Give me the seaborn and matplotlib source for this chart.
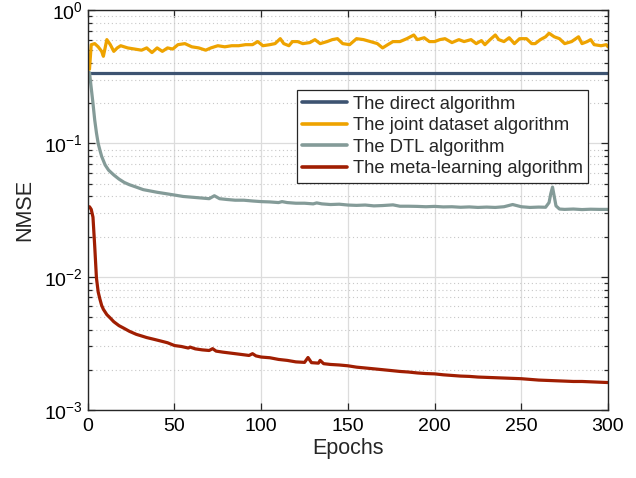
import numpy as np
import pandas as pd
import matplotlib
matplotlib.use('Agg')
import matplotlib.pyplot as plt
import matplotlib.ticker as mticker
import seaborn as sns

# %% data
direct_epochs = [1, 300]
direct_nmse = [0.34, 0.34]

joint_epochs = [1, 2, 4, 6, 8, 9, 11, 13, 15, 17, 19, 23, 27, 31, 34, 37, 40, 43, 46, 49,
                52, 56, 60, 64, 68, 71, 75, 79, 83, 87, 91, 95, 98, 101, 105, 108, 111, 113, 116, 118,
                121, 124, 128, 131, 134, 138, 141, 144, 147, 151, 155, 159, 163, 167, 170, 173, 176, 180, 184, 188,
                190, 194, 197, 200, 203, 206, 210, 214, 217, 221, 224, 227, 229, 232, 235, 237, 240, 243, 246, 249,
                253, 256, 258, 261, 264, 266, 269, 272, 275, 279, 283, 285, 288, 290, 292, 296, 299, 300]
joint_nmse = [0.36, 0.55, 0.56, 0.53, 0.49, 0.45, 0.60, 0.55, 0.49, 0.52, 0.54, 0.52, 0.51, 0.50, 0.52, 0.48, 0.52, 0.49, 0.52, 0.51,
              0.55, 0.56, 0.53, 0.52, 0.50, 0.52, 0.54, 0.53, 0.54, 0.54, 0.55, 0.55, 0.58, 0.54, 0.55, 0.56, 0.61, 0.56, 0.54, 0.58,
              0.58, 0.56, 0.57, 0.60, 0.56, 0.58, 0.60, 0.61, 0.56, 0.55, 0.61, 0.60, 0.58, 0.56, 0.52, 0.55, 0.58, 0.58, 0.61, 0.65,
              0.60, 0.62, 0.58, 0.58, 0.60, 0.61, 0.57, 0.60, 0.58, 0.60, 0.56, 0.59, 0.55, 0.60, 0.65, 0.60, 0.58, 0.62, 0.56, 0.61,
              0.61, 0.56, 0.56, 0.60, 0.63, 0.67, 0.63, 0.61, 0.56, 0.58, 0.63, 0.56, 0.58, 0.60, 0.55, 0.54, 0.55, 0.53]

dtl_epochs = [1, 2, 3, 4, 5, 6, 7, 8, 10, 12, 15, 18, 21, 24, 28, 32, 36, 40, 45, 50,
              55, 60, 65, 70, 73, 76, 80, 85, 90, 95, 100, 105, 110, 112, 115, 120, 125, 130, 132, 135,
              140, 145, 150, 155, 160, 165, 170, 176, 180, 185, 190, 195, 200, 205, 210, 215, 220, 225, 230, 235,
              240, 245, 250, 255, 260, 264, 266, 267, 268, 269, 270, 272, 275, 280, 285, 290, 295, 300]
dtl_nmse = [0.34, 0.26, 0.20, 0.15, 0.12, 0.10, 0.089, 0.080, 0.069, 0.063, 0.058, 0.054, 0.051, 0.049, 0.047, 0.045, 0.044, 0.043, 0.042, 0.041,
            0.040, 0.0395, 0.039, 0.0385, 0.0405, 0.0385, 0.038, 0.0375, 0.0375, 0.037, 0.0366, 0.0364, 0.036, 0.0366, 0.036, 0.0356, 0.0356, 0.0352, 0.0358, 0.0352,
            0.0348, 0.035, 0.0345, 0.0343, 0.0345, 0.034, 0.0342, 0.0346, 0.0338, 0.0338, 0.0337, 0.0335, 0.0337, 0.0334, 0.0335, 0.0332, 0.0334, 0.0331, 0.0333, 0.0331,
            0.0335, 0.0348, 0.0335, 0.0331, 0.0333, 0.0332, 0.036, 0.042, 0.047, 0.040, 0.034, 0.0322, 0.032, 0.0322, 0.0319, 0.0321, 0.032, 0.032]

meta_epochs = [1, 2, 3, 4, 5, 6, 7, 8, 9, 11, 13, 15, 18, 21, 24, 28, 31, 34, 38, 42,
               46, 50, 54, 58, 59, 62, 66, 70, 72, 74, 78, 82, 86, 90, 93, 95, 97, 100, 105, 110,
               115, 120, 125, 127, 129, 133, 134, 136, 140, 145, 150, 155, 160, 165, 170, 175, 180, 185, 190, 195,
               200, 205, 210, 215, 220, 225, 230, 235, 240, 245, 250, 255, 260, 265, 270, 275, 280, 285, 290, 295, 300]
meta_nmse = [0.0335, 0.032, 0.028, 0.017, 0.0098, 0.0077, 0.0068, 0.0061, 0.0057, 0.0052, 0.0049, 0.0046, 0.0043, 0.0041, 0.0039, 0.0037, 0.0036, 0.0035, 0.0034, 0.0033,
             0.0032, 0.00305, 0.0030, 0.00292, 0.00297, 0.00288, 0.00283, 0.0028, 0.00289, 0.00277, 0.00272, 0.00268, 0.00264, 0.0026, 0.00257, 0.00265, 0.00255, 0.0025, 0.00247, 0.0024,
             0.00236, 0.0023, 0.00228, 0.00248, 0.00227, 0.00225, 0.00236, 0.00223, 0.0022, 0.00218, 0.00215, 0.0021, 0.00207, 0.00204, 0.00201, 0.00198, 0.00195, 0.00193, 0.0019, 0.00188,
             0.00187, 0.00184, 0.00182, 0.0018, 0.00179, 0.00177, 0.00176, 0.00175, 0.00174, 0.00173, 0.00172, 0.0017, 0.00168, 0.00167, 0.00166, 0.00165, 0.00164, 0.00164, 0.00163, 0.00162, 0.00161]

labels = ['The direct algorithm', 'The joint dataset algorithm',
          'The DTL algorithm', 'The meta-learning algorithm']
colors = ['#3d5371', '#eea300', '#849b98', '#a01e02']

#%%
sns.set_theme(style='white')
plt.rcParams['font.family'] = ['Liberation Sans', 'DejaVu Sans']
plt.rcParams['mathtext.fontset'] = 'custom'
plt.rcParams['mathtext.rm'] = 'Liberation Sans'
plt.rcParams['mathtext.it'] = 'Liberation Sans:italic'

fig = plt.figure(figsize=(6.36, 4.78), dpi=100)
ax = fig.add_axes([0.138, 0.142, 0.818, 0.837])

series = [(direct_epochs, direct_nmse), (joint_epochs, joint_nmse),
          (dtl_epochs, dtl_nmse), (meta_epochs, meta_nmse)]
for (ep, val), lab, col in zip(series, labels, colors):
    df = pd.DataFrame({'Epochs': ep, 'NMSE': val})
    sns.lineplot(data=df, x='Epochs', y='NMSE', ax=ax, color=col, lw=2.3,
                 label=lab, estimator=None)

ax.set_yscale('log')
ax.set_xlim(0, 300)
ax.set_ylim(1e-3, 1)
ax.set_xticks([0, 50, 100, 150, 200, 250, 300])
ax.yaxis.set_major_locator(mticker.LogLocator(base=10, numticks=10))
ax.yaxis.set_minor_locator(mticker.LogLocator(base=10, subs=np.arange(2, 10), numticks=20))
ax.yaxis.set_major_formatter(mticker.LogFormatterMathtext())
ax.xaxis.set_minor_locator(mticker.NullLocator())

ax.grid(True, which='major', color='#dcdcdc', lw=0.9, ls='-')
ax.grid(True, which='minor', axis='y', color='#c8c8c8', lw=0.8, ls=(0, (1, 2.5)))
ax.set_axisbelow(True)

for s in ax.spines.values():
    s.set_color('#262626')
    s.set_linewidth(1.0)
    s.set_visible(True)
ax.tick_params(which='both', direction='in', top=True, right=True, left=True, bottom=True,
               colors='#262626', labelcolor='black', labelsize=14, width=0.9)
ax.tick_params(which='major', length=5)
ax.tick_params(which='minor', length=3)
ax.tick_params(axis='x', pad=6)
ax.set_xlabel('Epochs', fontsize=15.5, labelpad=2)
ax.set_ylabel('NMSE', fontsize=15.5, labelpad=6)

leg = ax.legend(loc='upper right', bbox_to_anchor=(0.962, 0.80), borderaxespad=0,
                fontsize=13.2, fancybox=False, framealpha=1, edgecolor='#262626',
                handlelength=2.45, handletextpad=0.3, labelspacing=0.25, borderpad=0.3)
leg.get_frame().set_linewidth(0.9)
for h in leg.get_lines():
    h.set_linewidth(2.6)

fig.savefig('out.png', dpi=100)
